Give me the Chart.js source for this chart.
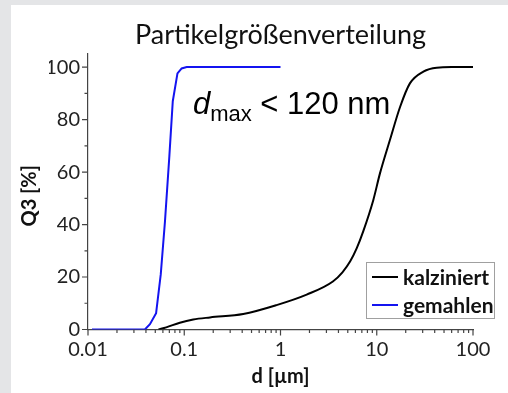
<!DOCTYPE html>
<html>
<head>
<meta charset="utf-8">
<title>Partikelgrößenverteilung</title>
<script src="https://cdn.jsdelivr.net/npm/chart.js@4.4.1/dist/chart.umd.min.js"></script>
<style>
    html, body { margin: 0; padding: 0; background: #e4e5e7; overflow: hidden; }
    .chart-box { position: absolute; left: 11px; top: 5px; width: 497px; height: 388px; background: #fff; }
    canvas { display: block; }
</style>
</head>
<body>
<div class="chart-box"><canvas id="psd" width="497" height="388"></canvas></div>
<script>
// particle size d [µm] and cumulative Q3 [%]
var sizeKalziniert = [0.054, 0.065, 0.09, 0.124, 0.185, 0.41, 0.91, 1.87, 3.5, 4.4, 5.3, 6.2, 7.25, 9.2, 10.8, 13.7, 17.5, 22.1, 30.5, 42, 60, 100];
var q3Kalziniert = [0, 0.8, 2.6, 3.8, 4.6, 5.9, 9.3, 13.3, 18.3, 21.8, 26, 31, 37.5, 49.3, 59.5, 72.2, 84.9, 93.8, 98.3, 99.8, 100, 100];
var sizeGemahlen = [0.011, 0.02, 0.03, 0.039, 0.044, 0.051, 0.057, 0.063, 0.07, 0.076, 0.085, 0.094, 0.106, 0.2, 0.5, 1];
var q3Gemahlen = [0, 0, 0, 0, 2, 6.2, 21, 41, 66, 87, 97.6, 99.5, 100, 100, 100, 100];

var xTicks = [0.01, 0.1, 1, 10, 100];
var xTickLabels = ['0.01', '0.1', '1', '10', '100'];
var yTicks = [0, 20, 40, 60, 80, 100];

var fontSans = 'Lato, "Open Sans", sans-serif';

function toPoints(xs, ys) {
    return xs.map(function(x, i) {
        return { x: x, y: ys[i] };
    });
}

function isDecade(v) {
    return xTicks.indexOf(v) >= 0;
}

// short tick marks outside the axes, longer at labelled ticks
var axisTicks = {
    id: 'axisTicks',
    afterDraw: function(chart) {
        var ctx = chart.ctx;
        var xs = chart.scales.x;
        var ys = chart.scales.y;
        ctx.save();
        ctx.strokeStyle = '#444';
        ctx.lineWidth = 1.2;
        ctx.beginPath();
        xs.ticks.forEach(function(t) {
            var px = xs.getPixelForValue(t.value);
            var len = isDecade(t.value) ? 6 : 3.5;
            ctx.moveTo(px, xs.top);
            ctx.lineTo(px, xs.top + len);
        });
        ys.ticks.forEach(function(t) {
            var py = ys.getPixelForValue(t.value);
            var len = yTicks.indexOf(t.value) >= 0 ? 6 : 3.5;
            ctx.moveTo(ys.right, py);
            ctx.lineTo(ys.right - len, py);
        });
        ctx.stroke();
        ctx.restore();
    }
};

// rotated y axis title, sitting a bit below the middle of the axis
var yTitle = {
    id: 'yTitle',
    afterDraw: function(chart) {
        var ctx = chart.ctx;
        var ys = chart.scales.y;
        ctx.save();
        ctx.translate(19, (ys.top + ys.bottom) / 2 + 4);
        ctx.rotate(-Math.PI / 2);
        ctx.font = 'bold 20px ' + fontSans;
        ctx.fillStyle = '#111';
        ctx.textAlign = 'center';
        ctx.textBaseline = 'middle';
        ctx.fillText('Q3 [%]', 0, 0);
        ctx.restore();
    }
};

// "d_max < 120 nm" note, anchored at 120 nm
var maxNote = {
    id: 'maxNote',
    afterDatasetsDraw: function(chart) {
        var ctx = chart.ctx;
        var px = chart.scales.x.getPixelForValue(0.123);
        var py = chart.scales.y.getPixelForValue(82);
        ctx.save();
        ctx.fillStyle = '#000';
        ctx.textBaseline = 'alphabetic';
        ctx.font = 'italic 31px "Liberation Sans", Arial, sans-serif';
        ctx.fillText('d', px, py);
        px += ctx.measureText('d').width;
        ctx.font = '22px "Liberation Sans", Arial, sans-serif';
        ctx.fillText('max', px, py + 7);
        px += ctx.measureText('max').width;
        ctx.font = '31px "Liberation Sans", Arial, sans-serif';
        ctx.fillText(' < 120 nm', px, py);
        ctx.restore();
    }
};

// boxed legend in the lower right corner
var legendBox = {
    id: 'legendBox',
    afterDraw: function(chart) {
        var ctx = chart.ctx;
        var left = 355, top = 257, w = 128, h = 56;
        ctx.save();
        ctx.fillStyle = '#fff';
        ctx.fillRect(left, top, w, h);
        ctx.strokeStyle = '#a0a0a0';
        ctx.lineWidth = 1;
        ctx.strokeRect(left + 0.5, top + 0.5, w, h);
        ctx.font = 'bold 21px ' + fontSans;
        ctx.textBaseline = 'middle';
        chart.data.datasets.forEach(function(ds, i) {
            var y = top + 15 + i * 28;
            ctx.strokeStyle = ds.borderColor;
            ctx.lineWidth = 2;
            ctx.beginPath();
            ctx.moveTo(left + 6, y);
            ctx.lineTo(left + 32, y);
            ctx.stroke();
            ctx.fillStyle = '#111';
            ctx.fillText(ds.label, left + 37, y + 1);
        });
        ctx.restore();
    }
};

var ctx = document.getElementById('psd');
var psdChart = new Chart(ctx, {
    type: 'scatter',
    data: {
        datasets: [{
            label: 'kalziniert',
            data: toPoints(sizeKalziniert, q3Kalziniert),
            showLine: true,
            borderColor: '#000',
            borderWidth: 2,
            pointRadius: 0,
            cubicInterpolationMode: 'monotone'
        }, {
            label: 'gemahlen',
            data: toPoints(sizeGemahlen, q3Gemahlen),
            showLine: true,
            borderColor: '#1414f0',
            borderWidth: 2,
            pointRadius: 0,
            tension: 0
        }]
    },
    options: {
        responsive: false,
        animation: false,
        layout: {
            padding: { left: 38, right: 35, top: 0, bottom: 0 }
        },
        plugins: {
            legend: { display: false },
            tooltip: { enabled: false },
            title: {
                display: true,
                fullSize: false,
                text: 'Partikelgrößenverteilung',
                color: '#111',
                font: { family: fontSans, size: 27, weight: 'normal' },
                padding: { top: 14, bottom: 2.6 }
            }
        },
        scales: {
            x: {
                type: 'logarithmic',
                min: 0.01,
                max: 100,
                grid: { display: false, drawTicks: false },
                border: { display: true, color: '#444', width: 1.2 },
                afterBuildTicks: function(scale) {
                    var list = [];
                    xTicks.forEach(function(d, i) {
                        list.push({ value: d });
                        if (i < xTicks.length - 1) {
                            for (var m = 2; m <= 9; m++) {
                                list.push({ value: Number((m * d).toPrecision(2)) });
                            }
                        }
                    });
                    scale.ticks = list;
                },
                afterFit: function(scale) {
                    scale.height = 63.5;
                },
                ticks: {
                    autoSkip: false,
                    maxRotation: 0,
                    padding: 8,
                    color: '#222',
                    font: { family: fontSans, size: 20 },
                    callback: function(v) {
                        var i = xTicks.indexOf(v);
                        return i < 0 ? '' : xTickLabels[i];
                    }
                },
                title: {
                    display: true,
                    text: 'd [µm]',
                    color: '#111',
                    font: { family: fontSans, size: 20, weight: 'bold' },
                    padding: { top: 0, bottom: 4 }
                }
            },
            y: {
                min: 0,
                max: 105,
                grid: { display: false, drawTicks: false },
                border: { display: true, color: '#444', width: 1.2 },
                afterBuildTicks: function(scale) {
                    var list = [];
                    for (var v = 0; v <= 100; v += 10) {
                        list.push({ value: v });
                    }
                    scale.ticks = list;
                },
                afterFit: function(scale) {
                    scale.width = 39;
                },
                ticks: {
                    autoSkip: false,
                    padding: 8,
                    color: '#222',
                    font: { family: fontSans, size: 20 },
                    callback: function(v) {
                        return yTicks.indexOf(v) < 0 ? '' : String(v);
                    }
                }
            }
        }
    },
    plugins: [axisTicks, yTitle, maxNote, legendBox]
});
</script>
</body>
</html>
